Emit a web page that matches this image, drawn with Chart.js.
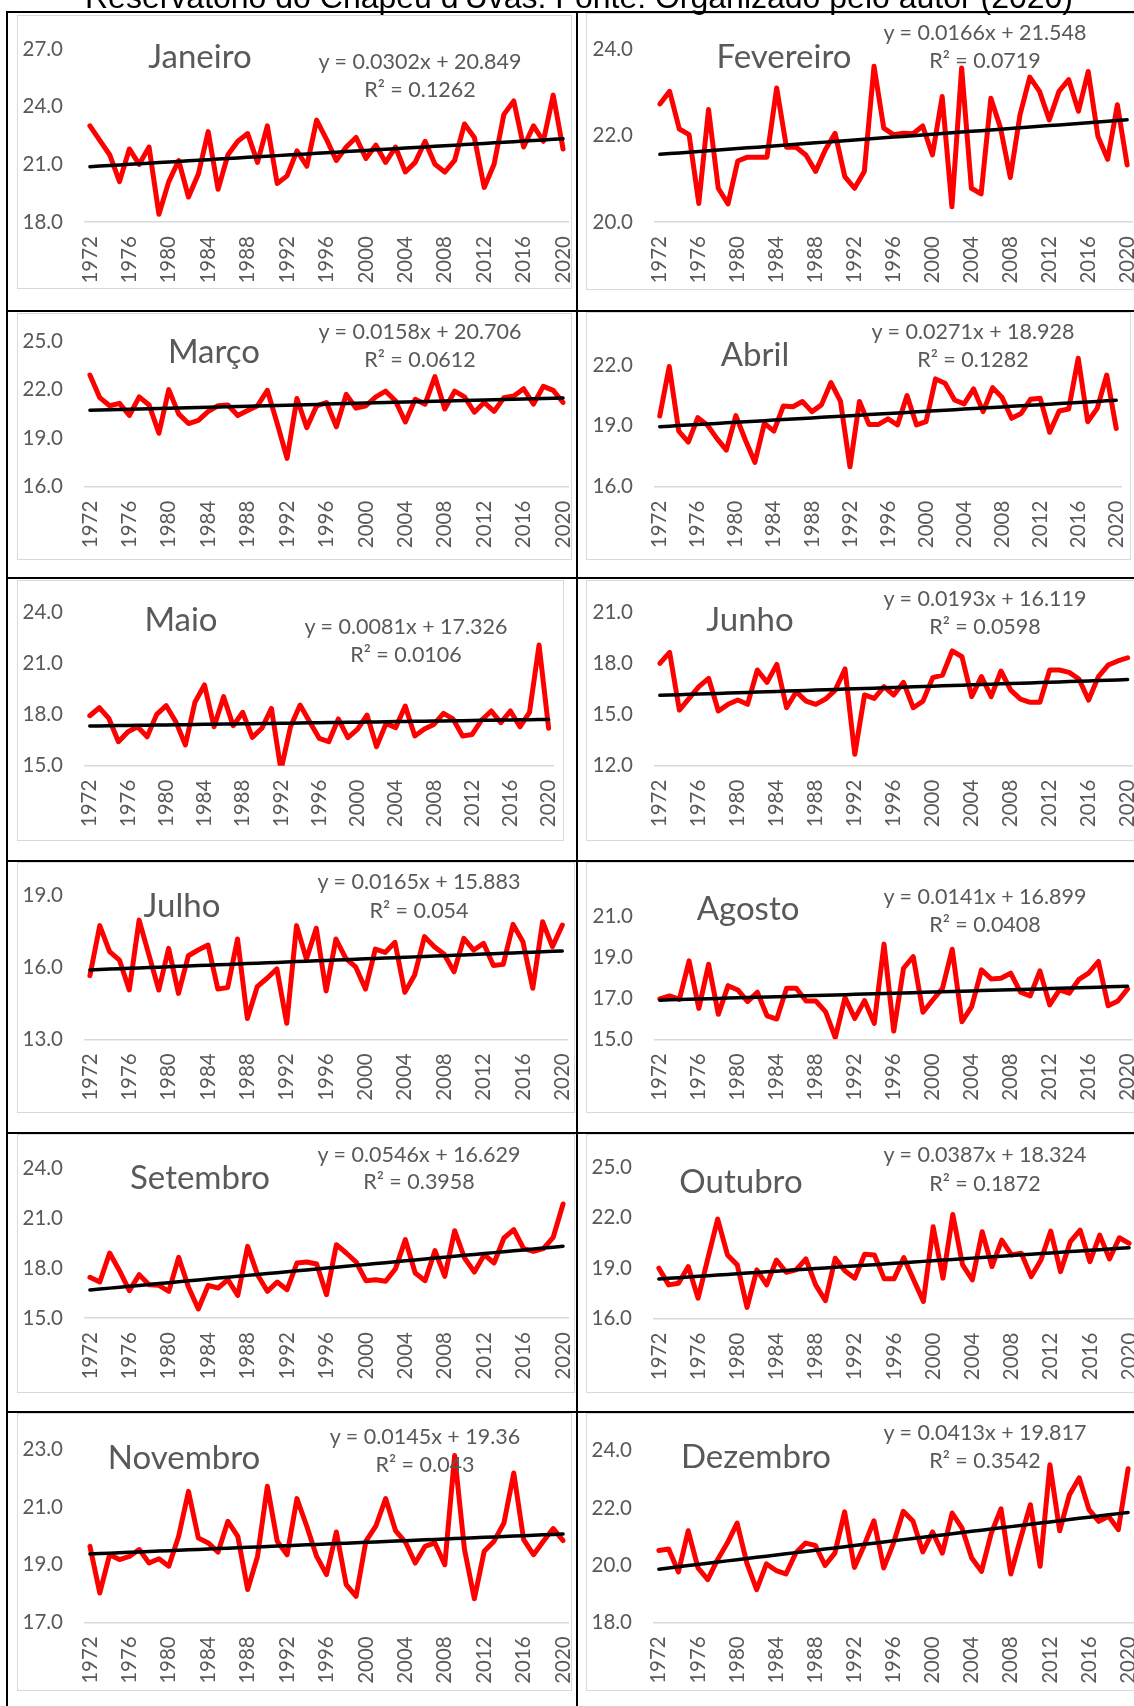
<!DOCTYPE html>
<html lang="pt">
<head>
<meta charset="utf-8">
<title>Reservatório do Chapéu d'Uvas - temperatura média mensal</title>
<script src="https://cdn.jsdelivr.net/npm/chart.js@4.4.1/dist/chart.umd.min.js"></script>
<style>
  html, body { margin: 0; padding: 0; background: #fff; overflow: hidden; }
  #pagina { position: relative; width: 1134px; height: 1706px; overflow: hidden; }
  #titulo { position: absolute; left: 85px; top: -19px; font: 32px "Liberation Sans", Arial, sans-serif; line-height: 1; color: #000; white-space: nowrap; z-index: 3; }
  .moldura { position: absolute; border: 1px solid #d9d9d9; box-sizing: border-box; }
  canvas { position: absolute; z-index: 1; }
  .linha { position: absolute; background: #000; z-index: 4; }
  .texto { position: absolute; font-family: Lato, sans-serif; color: #595959; line-height: 1; white-space: nowrap; transform: translate(-50%, -50%); z-index: 2; }
  .mes { font-size: 33px; }
  .eq { font-size: 21.5px; }
</style>
</head>
<body>
<div id="pagina">
  <div id="titulo">Reservatório do Chapéu d'Uvas. Fonte: Organizado pelo autor (2020)</div>
</div>
<script>
'use strict'

const anos = [1972, 1973, 1974, 1975, 1976, 1977, 1978, 1979, 1980, 1981, 1982, 1983, 1984, 1985, 1986, 1987, 1988, 1989, 1990, 1991, 1992, 1993, 1994, 1995, 1996, 1997, 1998, 1999, 2000, 2001, 2002, 2003, 2004, 2005, 2006, 2007, 2008, 2009, 2010, 2011, 2012, 2013, 2014, 2015, 2016, 2017, 2018, 2019, 2020]
const anosRotulo = [1972, 1976, 1980, 1984, 1988, 1992, 1996, 2000, 2004, 2008, 2012, 2016, 2020]

const meses = ['Janeiro', 'Fevereiro', 'Março', 'Abril', 'Maio', 'Junho', 'Julho', 'Agosto', 'Setembro', 'Outubro', 'Novembro', 'Dezembro']

const janeiro = [23.0, 22.25, 21.5, 20.1, 21.8, 21.0, 21.9, 18.4, 20.1, 21.2, 19.3, 20.5, 22.7, 19.7, 21.5, 22.2, 22.6, 21.1, 23.0, 20.0, 20.4, 21.7, 20.9, 23.3, 22.3, 21.2, 21.9, 22.4, 21.3, 22.0, 21.1, 21.9, 20.6, 21.1, 22.2, 21.0, 20.6, 21.2, 23.1, 22.4, 19.8, 21.0, 23.6, 24.3, 21.9, 23.0, 22.2, 24.6, 21.8]
const fevereiro = [22.73, 23.02, 22.15, 22.02, 20.43, 22.6, 20.78, 20.42, 21.41, 21.5, 21.5, 21.5, 23.1, 21.73, 21.73, 21.55, 21.17, 21.67, 22.05, 21.05, 20.78, 21.17, 23.6, 22.17, 22.02, 22.05, 22.04, 22.22, 21.55, 22.9, 20.35, 23.56, 20.78, 20.65, 22.86, 22.17, 21.03, 22.48, 23.35, 23.02, 22.36, 23.02, 23.29, 22.56, 23.48, 21.98, 21.45, 22.71, 21.32]
const marco = [22.9, 21.5, 21.0, 21.15, 20.4, 21.55, 21.05, 19.3, 22.0, 20.5, 19.9, 20.1, 20.65, 21.0, 21.05, 20.4, 20.7, 21.0, 21.95, 19.9, 17.75, 21.45, 19.65, 21.0, 21.2, 19.7, 21.7, 20.85, 21.0, 21.55, 21.9, 21.3, 20.0, 21.4, 21.1, 22.8, 20.8, 21.9, 21.55, 20.6, 21.2, 20.65, 21.5, 21.6, 22.05, 21.1, 22.2, 21.95, 21.2]
const abril = [19.48, 21.92, 18.74, 18.2, 19.4, 19.04, 18.38, 17.8, 19.5, 18.3, 17.2, 19.12, 18.74, 19.98, 19.94, 20.2, 19.7, 20.03, 21.13, 20.22, 16.98, 20.2, 19.07, 19.07, 19.34, 19.04, 20.49, 19.04, 19.2, 21.31, 21.1, 20.27, 20.08, 20.82, 19.7, 20.88, 20.39, 19.37, 19.61, 20.31, 20.36, 18.68, 19.73, 19.83, 22.33, 19.2, 19.86, 21.5, 18.87]
const maio = [17.94, 18.41, 17.78, 16.41, 17.0, 17.29, 16.7, 18.02, 18.53, 17.59, 16.22, 18.73, 19.75, 17.29, 19.06, 17.35, 18.14, 16.67, 17.2, 18.37, 14.75, 17.29, 18.57, 17.59, 16.61, 16.41, 17.75, 16.65, 17.14, 17.98, 16.12, 17.49, 17.24, 18.51, 16.75, 17.16, 17.43, 18.08, 17.75, 16.75, 16.84, 17.69, 18.22, 17.53, 18.22, 17.29, 18.14, 22.1, 17.2]
const junho = [18.02, 18.67, 15.27, 15.96, 16.65, 17.14, 15.22, 15.61, 15.86, 15.61, 17.63, 16.9, 17.96, 15.41, 16.35, 15.8, 15.61, 15.92, 16.45, 17.69, 12.67, 16.16, 15.96, 16.65, 16.16, 16.9, 15.41, 15.8, 17.18, 17.33, 18.75, 18.41, 16.06, 17.24, 16.06, 17.57, 16.45, 15.92, 15.73, 15.73, 17.63, 17.63, 17.49, 17.1, 15.86, 17.24, 17.92, 18.16, 18.35]
const julho = [15.66, 17.75, 16.66, 16.31, 15.06, 17.98, 16.52, 15.06, 16.8, 14.92, 16.49, 16.73, 16.94, 15.1, 15.16, 17.19, 13.87, 15.2, 15.55, 15.94, 13.67, 17.75, 16.35, 17.64, 15.02, 17.19, 16.38, 16.03, 15.1, 16.77, 16.63, 17.05, 14.96, 15.69, 17.29, 16.87, 16.55, 15.82, 17.22, 16.73, 17.01, 16.08, 16.13, 17.8, 17.08, 15.13, 17.91, 16.87, 17.77]
const agosto = [16.97, 17.12, 16.95, 18.83, 16.51, 18.67, 16.22, 17.62, 17.41, 16.84, 17.3, 16.15, 15.99, 17.49, 17.49, 16.87, 16.87, 16.35, 15.08, 17.04, 16.02, 16.89, 15.78, 19.65, 15.4, 18.47, 19.04, 16.32, 16.92, 17.49, 19.4, 15.86, 16.6, 18.39, 17.95, 17.98, 18.23, 17.3, 17.12, 18.34, 16.68, 17.41, 17.25, 17.93, 18.23, 18.8, 16.64, 16.87, 17.46]
const setembro = [17.44, 17.16, 18.9, 17.84, 16.64, 17.6, 17.0, 16.96, 16.6, 18.64, 16.84, 15.54, 16.96, 16.8, 17.3, 16.36, 19.3, 17.6, 16.6, 17.16, 16.7, 18.3, 18.36, 18.24, 16.4, 19.4, 18.9, 18.36, 17.24, 17.3, 17.2, 17.96, 19.7, 17.7, 17.24, 19.04, 17.5, 20.24, 18.6, 17.76, 18.8, 18.3, 19.8, 20.3, 19.16, 19.0, 19.16, 19.84, 21.84]
const outubro = [19.0, 18.01, 18.11, 19.1, 17.22, 19.59, 21.92, 19.79, 19.2, 16.67, 18.9, 18.01, 19.49, 18.76, 18.9, 19.55, 18.01, 17.07, 19.59, 18.84, 18.41, 19.83, 19.79, 18.37, 18.37, 19.63, 18.31, 17.03, 21.46, 18.41, 22.19, 19.2, 18.31, 21.17, 19.1, 20.67, 19.79, 19.89, 18.5, 19.49, 21.21, 18.8, 20.58, 21.27, 19.39, 20.97, 19.55, 20.81, 20.48]
const novembro = [19.64, 18.02, 19.35, 19.18, 19.29, 19.53, 19.06, 19.21, 18.95, 19.99, 21.55, 19.93, 19.76, 19.44, 20.51, 19.99, 18.14, 19.29, 21.73, 19.82, 19.35, 21.3, 20.34, 19.29, 18.66, 20.14, 18.31, 17.9, 19.82, 20.34, 21.3, 20.19, 19.79, 19.06, 19.64, 19.76, 19.0, 22.8, 19.53, 17.82, 19.47, 19.82, 20.45, 22.19, 19.87, 19.35, 19.82, 20.26, 19.84]
const dezembro = [20.51, 20.56, 19.76, 21.2, 19.9, 19.49, 20.19, 20.77, 21.47, 20.07, 19.14, 20.04, 19.81, 19.69, 20.42, 20.77, 20.69, 19.99, 20.42, 21.86, 19.92, 20.69, 21.55, 19.9, 20.77, 21.88, 21.53, 20.46, 21.16, 20.42, 21.82, 21.3, 20.25, 19.78, 21.12, 21.97, 19.69, 20.93, 22.11, 19.96, 23.51, 21.2, 22.46, 23.05, 21.94, 21.53, 21.71, 21.24, 23.37]

// linha de tendencia do Excel: y = a*x + b, x = 1..49
const inclinacao = [0.0302, 0.0166, 0.0158, 0.0271, 0.0081, 0.0193, 0.0165, 0.0141, 0.0546, 0.0387, 0.0145, 0.0413]
const intercepto = [20.849, 21.548, 20.706, 18.928, 17.326, 16.119, 15.883, 16.899, 16.629, 18.324, 19.36, 19.817]
const r2 = [0.1262, 0.0719, 0.0612, 0.1282, 0.0106, 0.0598, 0.054, 0.0408, 0.3958, 0.1872, 0.043, 0.3542]

const eixoMin = [18, 20, 16, 16, 15, 12, 13, 15, 15, 16, 17, 18]
const eixoMax = [27, 24, 25, 23, 24, 21, 19, 22, 24, 25, 23, 24]
const eixoTicks = [
  [18, 21, 24, 27], [20, 22, 24], [16, 19, 22, 25], [16, 19, 22],
  [15, 18, 21, 24], [12, 15, 18, 21], [13, 16, 19], [15, 17, 19, 21],
  [15, 18, 21, 24], [16, 19, 22, 25], [17, 19, 21, 23], [18, 20, 22, 24]
]

const temperaturas = [janeiro, fevereiro, marco, abril, maio, junho, julho, agosto, setembro, outubro, novembro, dezembro]

// posicoes na pagina: moldura [l, t, r, b], area do grafico [l, t, r, b], centros dos textos
const caixas = [
  { moldura: [17, 15, 572, 289], area: [85, 49, 568, 222], mes: [200, 55], eq: [420, 62], r2: [420, 90] },
  { moldura: [586, 13, 1150, 290], area: [655, 49, 1132, 222], mes: [784, 55], eq: [985, 33], r2: [985, 61] },
  { moldura: [17, 313, 572, 560], area: [85, 341, 568, 486.7], mes: [214, 350], eq: [420, 332], r2: [420, 360] },
  { moldura: [586, 312, 1131, 560], area: [655, 344.6, 1121, 486.7], mes: [755, 353], eq: [973, 332], r2: [973, 360] },
  { moldura: [17, 580, 564, 841], area: [85, 612.7, 553.4, 765.7], mes: [181, 618], eq: [406, 627], r2: [406, 655] },
  { moldura: [586, 580, 1150, 841], area: [655, 612.7, 1132.5, 765.7], mes: [750, 618], eq: [985, 599], r2: [985, 627] },
  { moldura: [17, 862, 575, 1113], area: [85, 895.7, 567.2, 1039.3], mes: [182, 904], eq: [419, 882], r2: [419, 911] },
  { moldura: [586, 862, 1150, 1113], area: [655, 896, 1132.5, 1039.3], mes: [748, 907], eq: [985, 897], r2: [985, 925] },
  { moldura: [17, 1134, 575, 1393], area: [85, 1168, 568, 1318], mes: [200, 1176], eq: [419, 1155], r2: [419, 1182] },
  { moldura: [586, 1134, 1150, 1393], area: [654, 1167.3, 1134, 1318.7], mes: [741, 1180], eq: [985, 1155], r2: [985, 1184] },
  { moldura: [17, 1413, 572, 1691], area: [85, 1449.7, 568, 1622.3], mes: [184, 1456], eq: [425, 1437], r2: [425, 1465] },
  { moldura: [586, 1413, 1150, 1691], area: [654, 1450.7, 1133, 1622.3], mes: [756, 1455], eq: [985, 1433], r2: [985, 1461] }
]

const pagina = document.getElementById('pagina')
const cinza = '#595959'

Chart.defaults.font.family = 'Lato, sans-serif'

const criaDiv = (classe, estilo, texto) => {
  const div = document.createElement('div')
  div.className = classe
  Object.assign(div.style, estilo)
  if (texto) div.textContent = texto
  pagina.append(div)
  return div
}

const desenhaGrafico = (k) => {
  const caixa = caixas[k]
  const [ml, mt, mr, mb] = caixa.moldura
  const [al, at, ar, ab] = caixa.area
  const direita = ml < 500 ? 576 : 1150

  criaDiv('moldura', { left: ml + 'px', top: mt + 'px', width: (mr - ml) + 'px', height: (mb - mt) + 'px' })

  const canvas = document.createElement('canvas')
  canvas.width = direita - ml
  canvas.height = mb - mt
  canvas.style.left = ml + 'px'
  canvas.style.top = mt + 'px'
  pagina.append(canvas)

  const tendencia = anos.map((ano, i) => intercepto[k] + inclinacao[k] * (i + 1))

  new Chart(canvas, {
    type: 'line',
    data: {
      labels: anos,
      datasets: [
        { data: tendencia, borderColor: '#000000', borderWidth: 3.5, pointRadius: 0, tension: 0, order: 0, borderCapStyle: 'round' },
        { data: temperaturas[k], borderColor: '#ff0000', borderWidth: 5, pointRadius: 0, tension: 0, order: 1, borderJoinStyle: 'round', borderCapStyle: 'round' }
      ]
    },
    options: {
      responsive: false,
      animation: false,
      devicePixelRatio: 1,
      events: [],
      layout: { padding: { top: at - mt, right: direita - ar, bottom: 0, left: 0 } },
      plugins: { legend: { display: false }, tooltip: { enabled: false } },
      scales: {
        x: {
          offset: true,
          grid: { display: false, drawTicks: false },
          border: { display: true, color: '#d9d9d9', width: 1.5 },
          ticks: {
            autoSkip: false, minRotation: 90, maxRotation: 90, padding: 14,
            color: cinza, font: { size: 20.5 },
            callback: (v, i) => anosRotulo.includes(anos[i]) ? String(anos[i]) : ''
          },
          afterFit: (s) => { s.height = mb - ab; s.paddingLeft = 0; s.paddingRight = 0 }
        },
        y: {
          min: eixoMin[k],
          max: eixoMax[k],
          grid: { display: false, drawTicks: false },
          border: { display: false },
          ticks: { padding: 22, color: cinza, font: { size: 20.5 }, callback: (v) => Number(v).toFixed(1) },
          afterBuildTicks: (s) => { s.ticks = eixoTicks[k].map((v) => ({ value: v })) },
          afterFit: (s) => { s.width = al - ml; s.paddingTop = 0; s.paddingBottom = 0 }
        }
      }
    }
  })

  criaDiv('texto mes', { left: caixa.mes[0] + 'px', top: caixa.mes[1] + 'px' }, meses[k])
  criaDiv('texto eq', { left: caixa.eq[0] + 'px', top: caixa.eq[1] + 'px' }, `y = ${inclinacao[k]}x + ${intercepto[k]}`)
  criaDiv('texto eq', { left: caixa.r2[0] + 'px', top: caixa.r2[1] + 'px' }, `R² = ${r2[k]}`)
}

meses.forEach((mes, k) => desenhaGrafico(k))

// bordas da tabela
const linhasH = [12, 311, 578, 861, 1132.5, 1412]
linhasH.forEach((y) => criaDiv('linha', { left: '6px', top: (y - 1) + 'px', width: '1128px', height: '2px' }))
criaDiv('linha', { left: '6px', top: '11px', width: '2px', height: '1695px' })
criaDiv('linha', { left: '576px', top: '11px', width: '2px', height: '1695px' })
</script>
</body>
</html>
